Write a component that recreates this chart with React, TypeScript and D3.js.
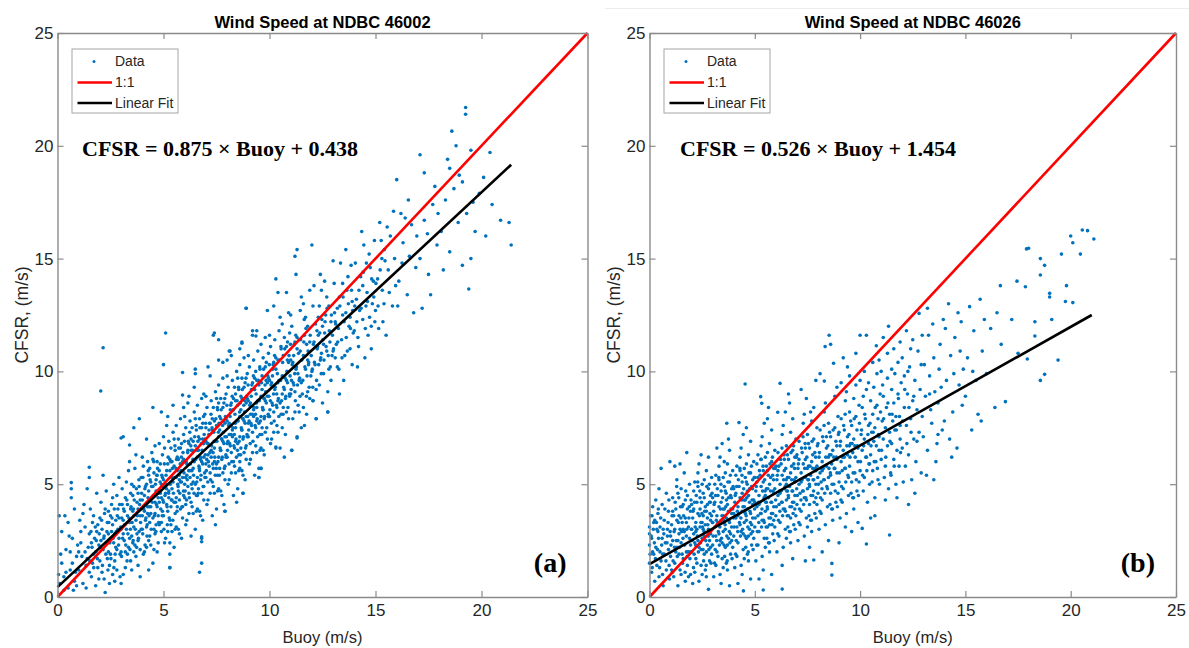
import React, { useEffect, useRef } from "react";
import * as d3 from "d3";

// axis ticks shared by both panels (m/s)
const tickValues = [0, 5, 10, 15, 20, 25];

const titles = ["Wind Speed at NDBC 46002", "Wind Speed at NDBC 46026"];
const panelTags = ["(a)", "(b)"];
const legendLabels = ["Data", "1:1", "Linear Fit"];

// linear fit coefficients and last buoy value of each fit line
const fitSlopes = [0.875, 0.526];
const fitIntercepts = [0.438, 1.454];
const fitEnds = [21.4, 21.0];

// [buoy, cfsr] pairs, NDBC 46002 - whole cloud
const pointsA: [number, number][] = [
  [0.1,0.6],[0.2,1.5],[0.3,0.9],[0.4,2.1],[0.5,0.4],[0.6,1.2],[0.7,2.6],[0.8,0.7],[0.9,1.8],[0.2,2.9],[0.5,3.3],[0.8,3.9],[0.3,0.3],[0.6,2.0],[0.9,0.5],[0.4,1.1],[0.7,1.5],[0.95,2.3],[0.15,1.9],[0.55,2.7],[0.85,1.1],[0.35,3.6],[0.75,0.3],[0.65,4.4],[0.05,1.0],
  [1.0,1.2],[1.1,2.4],[1.2,0.6],[1.3,3.1],[1.4,1.7],[1.5,2.8],[1.6,0.9],[1.7,3.6],[1.8,2.0],[1.9,1.3],[1.05,3.4],[1.15,1.8],[1.25,4.1],[1.35,0.4],[1.45,2.2],[1.55,3.9],[1.65,1.5],[1.75,2.6],[1.85,4.6],[1.95,0.8],[1.1,2.9],[1.3,2.0],[1.5,1.1],[1.7,1.9],[1.9,3.2],[1.2,3.7],[1.4,4.8],[1.6,2.4],[1.8,0.5],[1.5,5.3],[1.0,2.0],[1.85,2.9],[1.35,1.4],[1.65,3.3],[1.95,2.3],
  [2.0,1.6],[2.1,3.0],[2.2,0.8],[2.3,2.4],[2.4,3.8],[2.5,1.9],[2.6,4.4],[2.7,2.8],[2.8,1.2],[2.9,3.5],[2.05,4.2],[2.15,2.1],[2.25,0.2],[2.35,3.3],[2.45,1.4],[2.55,2.9],[2.65,5.0],[2.75,2.2],[2.85,3.9],[2.95,0.9],[2.1,1.1],[2.3,4.7],[2.5,3.6],[2.7,1.6],[2.9,2.6],[2.2,2.7],[2.4,2.0],[2.6,3.2],[2.8,4.5],[2.0,3.5],[2.15,5.4],[2.45,0.6],[2.65,2.4],[2.85,3.0],[2.35,1.7],[2.55,4.1],[2.75,3.4],[2.95,1.9],[2.25,3.9],[2.6,1.0],[2.9,5.3],[2.4,2.8],[2.7,0.7],[2.8,2.1],[2.05,2.5],
  [3.0,2.0],[3.1,3.4],[3.2,1.3],[3.3,4.1],[3.4,2.6],[3.5,5.0],[3.6,3.1],[3.7,1.8],[3.8,4.6],[3.9,3.6],[3.05,4.8],[3.15,2.5],[3.25,3.0],[3.35,5.6],[3.45,1.6],[3.55,3.8],[3.65,2.3],[3.75,4.2],[3.85,2.9],[3.95,5.3],[3.1,1.0],[3.3,3.6],[3.5,2.7],[3.7,3.4],[3.9,2.1],[3.2,4.4],[3.4,3.3],[3.6,4.9],[3.8,1.4],[3.0,3.0],[3.2,2.0],[3.4,6.0],[3.6,2.0],[3.8,3.9],[3.0,0.6],[3.15,3.8],[3.35,2.2],[3.55,4.5],[3.75,2.8],[3.95,3.9],[3.25,5.1],[3.45,3.9],[3.65,5.7],[3.85,4.9],[3.1,2.8],[3.5,1.2],[3.7,6.3],[3.9,4.3],[3.3,1.9],[3.6,3.6],[3.8,2.5],[3.05,4.1],[3.45,4.6],[3.9,0.9],[3.55,2.4],
  [4.0,3.0],[4.1,4.5],[4.2,2.2],[4.3,5.4],[4.4,3.7],[4.5,1.5],[4.6,4.2],[4.7,6.0],[4.8,3.2],[4.9,5.0],[4.05,5.8],[4.15,3.4],[4.25,4.0],[4.35,2.7],[4.45,6.4],[4.55,3.0],[4.65,5.2],[4.75,2.4],[4.85,4.6],[4.95,3.8],[4.0,4.3],[4.2,3.1],[4.4,5.1],[4.6,2.8],[4.8,5.6],[4.1,2.0],[4.3,4.7],[4.5,3.5],[4.7,4.0],[4.9,2.9],[4.0,6.2],[4.2,5.0],[4.4,2.3],[4.6,6.7],[4.8,4.2],[4.15,4.9],[4.35,3.3],[4.55,5.5],[4.75,3.6],[4.95,6.3],[4.05,1.9],[4.25,6.0],[4.45,4.4],[4.65,3.2],[4.85,5.9],[4.1,3.8],[4.3,1.2],[4.5,4.9],[4.7,2.0],[4.9,4.4],[4.2,7.0],[4.4,4.0],[4.6,3.7],[4.8,6.8],[4.0,3.6],[4.3,2.5],[4.5,6.1],[4.7,5.4],[4.9,3.3],[4.35,5.7],[4.65,4.7],[4.95,5.3],[4.25,3.7],[4.75,4.4],[4.55,2.1],
  [5.0,3.6],[5.1,5.0],[5.2,2.9],[5.3,6.1],[5.4,4.3],[5.5,2.2],[5.6,5.3],[5.7,7.0],[5.8,3.9],[5.9,6.0],[5.05,6.6],[5.15,4.1],[5.25,4.7],[5.35,3.2],[5.45,7.3],[5.55,3.7],[5.65,6.2],[5.75,2.8],[5.85,5.1],[5.95,4.5],[5.0,5.2],[5.2,3.8],[5.4,6.0],[5.6,3.1],[5.8,6.6],[5.1,2.6],[5.3,5.6],[5.5,4.2],[5.7,4.7],[5.9,3.5],[5.0,7.1],[5.2,5.9],[5.4,2.9],[5.6,7.6],[5.8,5.1],[5.15,5.6],[5.35,4.0],[5.55,6.5],[5.75,4.3],[5.95,7.2],[5.05,2.4],[5.25,6.9],[5.45,5.1],[5.65,4.0],[5.85,6.8],[5.1,4.6],[5.3,1.9],[5.5,5.8],[5.7,3.0],[5.9,5.3],[5.2,8.0],[5.4,4.8],[5.6,4.4],[5.8,7.9],[5.0,4.2],[5.3,3.4],[5.5,7.0],[5.7,6.1],[5.9,4.0],[5.35,6.6],[5.65,5.6],[5.95,6.1],[5.25,4.4],[5.75,5.2],[5.55,3.0],[5.45,8.5],[5.85,2.6],[5.3,1.3],[5.15,7.6],[5.95,8.4],
  [6.0,4.4],[6.1,5.9],[6.2,3.7],[6.3,7.0],[6.4,5.1],[6.5,3.0],[6.6,6.2],[6.7,7.9],[6.8,4.6],[6.9,6.8],[6.05,7.5],[6.15,4.9],[6.25,5.6],[6.35,4.0],[6.45,8.2],[6.55,4.5],[6.65,7.1],[6.75,3.6],[6.85,5.9],[6.95,5.3],[6.0,6.0],[6.2,4.6],[6.4,6.9],[6.6,3.9],[6.8,7.5],[6.1,3.4],[6.3,6.5],[6.5,5.0],[6.7,5.6],[6.9,4.3],[6.0,8.0],[6.2,6.8],[6.4,3.7],[6.6,8.5],[6.8,6.0],[6.15,6.5],[6.35,4.8],[6.55,7.4],[6.75,5.2],[6.95,8.1],[6.05,3.2],[6.25,7.8],[6.45,6.0],[6.65,4.8],[6.85,7.7],[6.1,5.4],[6.3,2.7],[6.5,6.7],[6.7,3.8],[6.9,6.2],[6.2,8.9],[6.4,5.7],[6.6,5.3],[6.8,8.8],[6.0,5.0],[6.3,4.2],[6.5,7.9],[6.7,7.0],[6.9,4.9],[6.35,7.5],[6.65,6.5],[6.95,7.0],[6.25,5.3],[6.75,6.1],[6.55,3.8],[6.45,9.3],[6.85,3.4],[6.8,2.6],[6.8,1.5],[6.7,1.1],[6.15,8.6],[6.9,9.0],[6.5,9.9],[6.05,4.1],[6.6,4.5],
  [7.0,5.3],[7.1,6.8],[7.2,4.6],[7.3,7.9],[7.4,6.0],[7.5,3.9],[7.6,7.1],[7.7,8.8],[7.8,5.5],[7.9,7.7],[7.05,8.4],[7.15,5.8],[7.25,6.5],[7.35,4.9],[7.45,9.1],[7.55,5.4],[7.65,8.0],[7.75,4.5],[7.85,6.8],[7.95,6.2],[7.0,6.9],[7.2,5.5],[7.4,7.8],[7.6,4.8],[7.8,8.4],[7.1,4.3],[7.3,7.4],[7.5,5.9],[7.7,6.5],[7.9,5.2],[7.0,8.9],[7.2,7.7],[7.4,4.6],[7.6,9.4],[7.8,6.9],[7.15,7.4],[7.35,5.7],[7.55,8.3],[7.75,6.1],[7.95,9.0],[7.05,4.1],[7.25,8.7],[7.45,6.9],[7.65,5.7],[7.85,8.6],[7.1,6.3],[7.3,3.6],[7.5,7.6],[7.7,4.7],[7.9,7.1],[7.2,9.8],[7.4,6.6],[7.6,6.2],[7.8,9.7],[7.0,5.9],[7.3,5.1],[7.5,8.8],[7.7,7.9],[7.9,5.8],[7.35,8.4],[7.65,7.4],[7.95,7.9],[7.25,6.2],[7.75,7.0],[7.55,4.7],[7.9,3.8],[7.4,11.7],[7.6,11.4],[7.6,10.5],[7.1,10.2],[7.8,10.4],[7.45,3.2],[7.85,4.1],[7.0,7.5],[7.6,8.6],
  [8.0,6.2],[8.1,7.7],[8.2,5.5],[8.3,8.8],[8.4,6.9],[8.5,4.8],[8.6,8.0],[8.7,9.7],[8.8,6.4],[8.9,8.6],[8.05,9.3],[8.15,6.7],[8.25,7.4],[8.35,5.8],[8.45,10.0],[8.55,6.3],[8.65,8.9],[8.75,5.4],[8.85,7.7],[8.95,7.1],[8.0,7.8],[8.2,6.4],[8.4,8.7],[8.6,5.7],[8.8,9.3],[8.1,5.2],[8.3,8.3],[8.5,6.8],[8.7,7.4],[8.9,6.1],[8.0,9.8],[8.2,8.6],[8.4,5.5],[8.6,10.3],[8.8,7.8],[8.15,8.3],[8.35,6.6],[8.55,9.2],[8.75,7.0],[8.95,9.9],[8.05,5.0],[8.25,9.6],[8.45,7.8],[8.65,6.6],[8.85,9.5],[8.1,7.2],[8.3,4.5],[8.5,8.5],[8.7,5.6],[8.9,8.0],[8.2,10.7],[8.4,7.5],[8.6,7.1],[8.8,10.6],[8.0,6.8],[8.3,6.0],[8.5,9.7],[8.7,8.8],[8.9,6.7],[8.35,9.3],[8.65,8.3],[8.95,8.8],[8.25,7.1],[8.75,7.9],[8.55,5.6],[8.75,4.6],[8.9,12.8],[8.7,11.3],[8.1,10.9],[8.6,11.0],[8.45,4.2],[8.0,10.5],[8.85,5.2],[8.4,9.0],[8.6,6.0],
  [9.0,7.1],[9.1,8.6],[9.2,6.4],[9.3,9.7],[9.4,7.8],[9.5,5.7],[9.6,8.9],[9.7,10.6],[9.8,7.3],[9.9,9.5],[9.05,10.2],[9.15,7.6],[9.25,8.3],[9.35,6.7],[9.45,10.9],[9.55,7.2],[9.65,9.8],[9.75,6.3],[9.85,8.6],[9.95,8.0],[9.0,8.7],[9.2,7.3],[9.4,9.6],[9.6,6.6],[9.8,10.2],[9.1,6.1],[9.3,9.2],[9.5,7.7],[9.7,8.3],[9.9,7.0],[9.0,10.7],[9.2,9.5],[9.4,6.4],[9.6,11.2],[9.8,8.7],[9.15,9.2],[9.35,7.5],[9.55,10.1],[9.75,7.9],[9.95,10.8],[9.05,5.9],[9.25,10.5],[9.45,8.7],[9.65,7.5],[9.85,10.4],[9.1,8.1],[9.3,5.4],[9.5,9.4],[9.7,6.5],[9.9,8.9],[9.2,11.6],[9.4,8.4],[9.6,8.0],[9.8,11.5],[9.0,7.7],[9.5,5.3],[9.6,5.7],[9.9,12.7],[9.4,11.8],[9.35,10.0],[9.65,9.2],[9.95,9.7],[9.25,8.0],[9.75,8.8],[9.55,6.5],
  [10.0,8.0],[10.1,9.5],[10.2,7.3],[10.3,10.6],[10.4,8.7],[10.5,6.6],[10.6,9.8],[10.7,11.5],[10.8,8.2],[10.9,10.4],[10.05,11.1],[10.15,8.5],[10.25,9.2],[10.35,7.6],[10.45,11.8],[10.55,8.1],[10.65,10.7],[10.75,7.2],[10.85,9.5],[10.95,8.9],[10.0,9.6],[10.2,8.2],[10.4,10.5],[10.6,7.5],[10.8,11.1],[10.1,7.0],[10.3,10.1],[10.5,8.6],[10.7,9.2],[10.9,7.9],[10.0,11.6],[10.2,10.4],[10.4,7.3],[10.6,12.1],[10.8,9.6],[10.15,10.1],[10.35,8.4],[10.55,11.0],[10.75,8.8],[10.95,11.7],[10.05,6.8],[10.25,11.4],[10.45,9.6],[10.65,8.4],[10.85,11.3],[10.3,6.6],[10.3,14.1],[10.4,13.5],[10.8,13.5],[10.5,12.4],[10.7,6.2],[10.9,12.6],[10.2,12.9],[10.6,9.0],
  [11.0,9.0],[11.1,10.4],[11.2,8.2],[11.3,11.5],[11.4,9.6],[11.5,7.5],[11.6,10.7],[11.7,12.4],[11.8,9.1],[11.9,11.3],[11.05,12.0],[11.15,9.4],[11.25,10.1],[11.35,8.5],[11.45,12.7],[11.55,9.0],[11.65,11.6],[11.75,8.1],[11.85,10.4],[11.95,9.8],[11.0,10.5],[11.2,9.1],[11.4,11.4],[11.6,8.4],[11.8,12.0],[11.1,7.9],[11.3,11.0],[11.5,9.5],[11.7,10.1],[11.9,8.8],[11.0,12.5],[11.2,11.3],[11.4,8.2],[11.6,13.0],[11.8,10.5],[11.3,7.1],[11.05,6.5],[11.2,15.1],[11.3,15.4],[11.25,14.3],[11.9,13.6],[11.5,13.3],[11.45,10.9],[11.75,11.2],[11.65,7.6],
  [12.0,10.0],[12.1,11.3],[12.2,9.2],[12.3,12.4],[12.4,10.5],[12.5,8.6],[12.6,11.7],[12.7,13.3],[12.8,10.1],[12.9,12.2],[12.05,12.9],[12.15,10.3],[12.25,11.0],[12.35,9.4],[12.45,13.6],[12.55,9.9],[12.65,12.5],[12.75,9.1],[12.85,11.3],[12.95,10.7],[12.0,15.6],[12.2,7.9],[12.75,8.2],[12.05,8.7],[12.4,14.3],[12.6,14.0],[12.3,11.6],[12.5,12.0],[12.8,12.9],[12.9,9.6],[12.1,13.8],[12.45,10.8],[12.7,10.9],[12.35,12.9],[12.55,11.2],
  [13.0,10.9],[13.1,12.2],[13.2,10.2],[13.3,13.3],[13.4,11.4],[13.5,9.6],[13.6,12.6],[13.7,14.2],[13.8,11.0],[13.9,13.1],[13.05,13.9],[13.15,11.2],[13.25,11.9],[13.35,14.8],[13.45,12.5],[13.55,10.7],[13.65,13.6],[13.75,12.0],[13.85,14.7],[13.95,11.7],[13.3,9.0],[13.0,14.9],[13.6,15.4],[13.2,12.8],[13.8,12.4],[13.45,13.9],[13.9,10.3],[13.1,10.6],
  [14.0,11.8],[14.1,13.2],[14.2,11.1],[14.3,14.2],[14.4,12.3],[14.5,10.6],[14.6,13.5],[14.7,15.2],[14.8,12.0],[14.9,14.0],[14.05,14.8],[14.25,12.7],[14.45,15.6],[14.65,11.6],[14.85,13.0],[14.35,16.2],[14.75,14.6],[14.15,10.2],[14.55,12.9],[14.95,15.8],[14.4,13.8],[14.8,11.0],
  [15.0,12.7],[15.1,14.1],[15.3,15.0],[15.4,13.0],[15.5,11.6],[15.6,14.5],[15.7,16.0],[15.8,12.9],[15.9,15.0],[15.2,16.6],[15.45,14.9],[15.65,13.5],[15.85,17.1],[15.15,11.9],[15.55,16.4],[15.95,13.8],[15.35,12.2],[16.0,18.5],
  [16.1,14.0],[16.3,15.7],[16.5,13.4],[16.7,16.5],[16.9,14.6],[16.2,17.0],[16.6,15.1],[16.8,12.6],[16.4,16.8],[16.05,12.9],[16.95,16.0],[16.55,17.6],[16.25,14.8],
  [17.1,15.0],[17.3,16.7],[17.5,14.3],[17.7,17.4],[17.9,15.6],[17.1,19.6],[17.3,18.8],[17.6,13.4],[17.8,18.2],[17.2,12.8],[17.45,16.1],[17.95,17.0],
  [18.1,16.2],[18.3,17.6],[18.5,15.3],[18.7,18.1],[18.9,16.6],[18.4,19.4],[18.6,20.65],[18.8,20.0],[18.2,14.5],[18.95,18.7],[18.5,19.0],
  [19.25,21.7],[19.25,21.4],[19.5,19.8],[19.4,13.65],[19.5,15.0],[19.1,14.7],[19.9,17.9],[19.3,17.0],[19.7,16.2],[19.1,18.4],[19.6,17.5],
  [20.1,18.6],[20.4,19.7],[20.9,16.7],[21.3,16.6],[21.4,15.6],[20.5,17.4],[20.2,16.0],
  [2.15,11.05],[2.04,9.13],[5.1,11.7],[5.0,10.3],[5.9,9.95],[5.9,8.95],[4.5,8.4],[4.9,8.2],[3.86,7.9],[3.6,7.5],[3.0,7.05],[3.4,6.74],[1.5,5.75],[0.65,5.07],[0.65,4.8],[0.08,3.6],[6.5,10.1],[7.35,11.6],[8.14,10.9],[8.7,11.25],[9.36,11.57],[8.9,12.8],[9.2,11.8],[11.3,7.05],[11.05,6.5],[10.3,6.65],[9.6,5.7],[9.5,5.3],[8.75,4.6],[6.8,2.67],[6.8,2.45],[7.9,3.8],[12.2,7.9],[12.75,8.2],[12.05,8.7],[5.3,2.4],[5.3,1.3],[3.1,7.1],
];

// [buoy, cfsr] pairs from the dense core of panel (a)
const coreA: [number, number][] = [
  [1.52,1.6],[1.58,2.9],[1.63,2.2],[1.71,1.3],[1.78,3.1],[1.83,2.5],[1.88,1.7],[1.97,2.8],[2.03,2.2],[2.08,3.4],[2.12,1.4],[2.18,2.6],[2.22,3.7],[2.28,1.9],[2.33,2.9],[2.38,1.2],[2.42,3.3],[2.47,2.4],
  [2.52,1.7],[2.57,3.5],[2.62,2.6],[2.68,3.9],[2.72,1.9],[2.77,2.9],[2.82,3.6],[2.88,2.3],[2.93,4.1],[2.98,3.1],[3.02,1.8],[3.07,2.6],[3.12,3.9],[3.17,3.2],[3.22,2.3],[3.27,4.3],[3.32,2.8],[3.37,3.5],[3.42,2.1],[3.47,4.0],[3.03,3.5],[3.28,1.6],[2.66,1.3],[3.44,3.0],
  [3.52,3.3],[3.57,2.5],[3.62,4.3],[3.67,3.0],[3.72,4.8],[3.77,3.6],[3.82,2.6],[3.87,4.1],[3.92,3.3],[3.97,4.6],[4.02,2.8],[4.07,3.9],[4.12,4.8],[4.17,3.5],[4.22,2.7],[4.27,4.4],[4.32,3.6],[4.37,5.2],[4.42,3.0],[4.47,4.2],[3.58,3.9],[3.84,5.2],[4.03,5.3],[4.23,3.2],[4.44,4.9],[3.73,2.2],[4.13,2.3],[4.33,4.0],[3.95,3.0],[4.28,5.6],
  [4.52,4.5],[4.57,3.6],[4.62,5.0],[4.67,4.1],[4.72,5.7],[4.77,3.3],[4.82,4.7],[4.87,3.9],[4.92,5.4],[4.97,4.3],[5.02,3.0],[5.07,4.5],[5.12,5.4],[5.17,4.0],[5.22,6.2],[5.27,3.5],[5.32,5.0],[5.37,4.3],[5.42,5.7],[5.47,4.6],[4.54,6.0],[4.74,4.6],[4.94,3.6],[5.14,4.8],[5.34,6.0],[4.64,2.9],[4.84,5.1],[5.04,5.9],[5.24,4.6],[5.44,3.4],[4.98,4.9],[5.18,3.2],[4.68,5.4],[5.38,5.3],
  [5.52,5.3],[5.57,4.2],[5.62,6.1],[5.67,5.0],[5.72,6.6],[5.77,4.6],[5.82,5.6],[5.87,4.0],[5.92,6.4],[5.97,5.5],[6.02,4.7],[6.07,6.0],[6.12,5.2],[6.17,6.9],[6.22,4.4],[6.27,5.9],[6.32,5.0],[6.37,6.5],[6.42,5.4],[6.47,7.1],[5.54,6.7],[5.74,5.4],[5.94,4.7],[6.14,6.4],[6.34,5.6],[5.64,3.8],[5.84,6.2],[6.04,5.3],[6.24,7.3],[6.44,4.6],[5.99,6.9],[6.19,5.6],[5.69,4.9],[6.39,6.1],[5.79,5.9],[6.09,4.3],[6.29,6.7],[5.59,5.7],
  [6.52,6.1],[6.57,5.1],[6.62,6.9],[6.67,5.8],[6.72,7.5],[6.77,5.4],[6.82,6.5],[6.87,4.9],[6.92,7.2],[6.97,6.3],[7.02,5.6],[7.07,6.8],[7.12,6.0],[7.17,7.7],[7.22,5.2],[7.27,6.7],[7.32,5.9],[7.37,7.3],[7.42,6.2],[7.47,7.9],[6.54,7.6],[6.74,6.2],[6.94,5.5],[7.14,7.2],[7.34,6.4],[6.64,4.6],[6.84,7.0],[7.04,6.1],[7.24,8.1],[7.44,5.4],[6.99,7.7],[7.19,6.4],[6.69,5.7],[7.39,6.9],[6.79,6.8],[7.09,5.1],[7.29,7.5],[6.59,6.5],[6.89,8.0],[7.49,5.7],
  [7.52,6.9],[7.57,6.0],[7.62,7.7],[7.67,6.6],[7.72,8.3],[7.77,6.2],[7.82,7.3],[7.87,5.7],[7.92,8.0],[7.97,7.1],[8.02,6.5],[8.07,7.6],[8.12,6.8],[8.17,8.5],[8.22,6.0],[8.27,7.5],[8.32,6.7],[8.37,8.1],[8.42,7.0],[8.47,8.7],[7.54,8.4],[7.74,7.0],[7.94,6.3],[8.14,8.0],[8.34,7.2],[7.64,5.4],[7.84,7.8],[8.04,6.9],[8.24,8.9],[8.44,6.2],[7.99,8.5],[8.19,7.2],[7.69,6.5],[8.39,7.7],[7.79,7.6],[8.09,5.9],[8.29,8.3],[7.59,7.3],[7.89,8.8],[8.49,6.5],
  [8.52,7.8],[8.57,6.9],[8.62,8.6],[8.67,7.5],[8.72,9.2],[8.77,7.1],[8.82,8.2],[8.87,6.6],[8.92,8.9],[8.97,8.0],[9.02,7.4],[9.07,8.5],[9.12,7.7],[9.17,9.4],[9.22,6.9],[9.27,8.4],[9.32,7.6],[9.37,9.0],[9.42,7.9],[9.47,9.6],[8.54,9.3],[8.74,7.9],[8.94,7.2],[9.14,8.9],[9.34,8.1],[8.64,6.3],[8.84,8.7],[9.04,7.8],[9.24,9.8],[9.44,7.1],[8.99,9.4],[9.19,8.1],[8.69,7.4],[9.39,8.6],[8.79,8.5],[9.09,6.8],[9.29,9.2],[8.59,8.2],[8.89,9.7],
  [9.52,8.7],[9.57,7.8],[9.62,9.5],[9.67,8.4],[9.72,10.1],[9.77,8.0],[9.82,9.1],[9.87,7.5],[9.92,9.8],[9.97,8.9],[10.02,8.3],[10.07,9.4],[10.12,8.6],[10.17,10.3],[10.22,7.8],[10.27,9.3],[10.32,8.5],[10.37,9.9],[10.42,8.8],[10.47,10.5],[9.54,10.2],[9.74,8.8],[9.94,8.1],[10.14,9.8],[10.34,9.0],[9.64,7.2],[9.84,9.6],[10.04,8.7],[10.24,10.7],[10.44,8.0],[9.99,10.3],[10.19,9.0],[9.69,8.3],[10.39,9.5],[9.79,9.4],[10.09,7.7],
  [10.52,9.6],[10.57,8.7],[10.62,10.4],[10.67,9.3],[10.72,11.0],[10.77,8.9],[10.82,10.0],[10.87,8.4],[10.92,10.7],[10.97,9.8],[11.02,9.2],[11.07,10.3],[11.12,9.5],[11.17,11.2],[11.22,8.7],[11.27,10.2],[11.32,9.4],[11.37,10.8],[11.42,9.7],[11.47,11.4],[10.54,11.1],[10.74,9.7],[10.94,9.0],[11.14,10.7],[11.34,9.9],[10.64,8.1],[10.84,10.5],[11.04,9.6],[11.24,11.6],[11.44,8.9],[10.99,11.2],[11.19,9.9],
  [11.52,10.5],[11.57,9.6],[11.62,11.3],[11.67,10.2],[11.72,11.9],[11.77,9.8],[11.82,10.9],[11.87,9.3],[11.92,11.6],[11.97,10.7],[12.02,10.1],[12.07,11.2],[12.12,10.4],[12.17,12.1],[12.22,9.6],[12.27,11.1],[12.32,10.3],[12.37,11.7],[12.42,10.6],[12.47,12.3],[11.64,12.3],[11.84,10.3],[12.04,9.3],[12.24,11.8],[12.44,9.9],[11.74,8.9],
  [12.52,11.4],[12.57,10.5],[12.62,12.2],[12.67,11.1],[12.72,12.8],[12.77,10.7],[12.82,11.8],[12.87,10.2],[12.92,12.5],[12.97,11.6],[13.02,11.0],[13.12,12.1],[13.22,11.3],[13.32,12.9],[13.42,10.6],[13.52,12.2],[13.62,11.5],[13.72,13.0],[13.82,11.9],[13.92,12.7],[13.07,12.6],[13.27,10.1],[13.47,13.3],[13.67,10.9],[13.87,13.6],
  [14.02,12.9],[14.12,12.2],[14.22,13.6],[14.32,12.8],[14.42,14.4],[14.52,11.9],[14.62,13.1],[14.72,12.4],[14.82,14.1],[14.92,13.3],[15.02,13.9],[15.12,12.9],[15.22,14.5],[15.32,13.6],[15.42,15.4],[14.17,11.5],[14.57,14.8],[14.97,12.2],[15.27,15.8],
];

// [buoy, cfsr] pairs, NDBC 46026 - whole cloud
const pointsB: [number, number][] = [
  [0.0,1.5],[0.0,2.3],[0.0,3.1],[0.0,2.8],[0.05,3.6],[0.1,1.1],[0.1,2.6],[0.15,4.0],[0.2,1.9],[0.2,3.3],[0.25,0.7],[0.3,2.2],[0.3,4.3],[0.35,1.4],[0.4,2.9],[0.4,3.7],[0.45,0.9],[0.5,2.0],[0.5,3.1],[0.55,5.7],[0.55,1.6],[0.6,2.6],[0.6,4.1],[0.65,0.5],[0.7,3.4],[0.7,1.9],[0.75,2.4],[0.8,4.6],[0.8,1.2],[0.85,3.0],[0.9,2.1],[0.9,3.8],[0.95,0.8],[0.97,6.0],[0.35,3.0],[0.15,2.0],[0.65,3.0],[0.85,2.7],[0.45,4.8],[0.25,3.4],
  [1.0,1.8],[1.05,3.2],[1.1,2.5],[1.1,4.4],[1.15,0.9],[1.2,3.0],[1.2,1.5],[1.25,3.9],[1.3,2.2],[1.3,5.2],[1.35,0.5],[1.4,2.8],[1.4,3.6],[1.45,1.2],[1.5,4.8],[1.5,2.4],[1.55,3.3],[1.6,1.7],[1.6,4.1],[1.65,2.9],[1.7,0.7],[1.7,3.5],[1.75,2.0],[1.77,6.4],[1.8,4.5],[1.8,1.4],[1.85,3.1],[1.9,2.6],[1.9,5.0],[1.95,1.0],[1.95,3.8],[1.0,2.7],[1.15,3.6],[1.25,2.0],[1.35,4.6],[1.45,3.0],[1.55,1.9],[1.65,5.5],[1.75,2.7],[1.85,0.9],[1.05,1.2],[1.2,5.8],[1.4,1.9],[1.6,3.0],[1.8,3.9],[1.3,3.4],[1.5,1.0],[1.7,4.3],[1.9,2.0],[1.1,3.8],[1.35,2.5],[1.55,4.0],[1.75,3.3],[1.95,2.3],[1.45,5.9],
  [2.0,2.0],[2.05,3.5],[2.1,2.8],[2.1,4.7],[2.15,1.1],[2.2,3.3],[2.2,1.7],[2.25,4.2],[2.3,2.5],[2.3,5.5],[2.35,0.7],[2.4,3.1],[2.4,3.9],[2.45,1.4],[2.5,5.0],[2.5,2.6],[2.55,3.6],[2.6,1.9],[2.6,4.4],[2.65,3.2],[2.7,0.9],[2.7,3.8],[2.75,2.3],[2.8,6.2],[2.8,0.34],[2.8,4.8],[2.85,1.6],[2.9,3.4],[2.9,2.8],[2.95,5.3],[2.0,4.1],[2.15,2.4],[2.25,3.0],[2.35,5.9],[2.45,2.1],[2.55,4.6],[2.65,1.2],[2.75,3.5],[2.85,4.2],[2.95,1.9],[2.05,0.6],[2.2,2.9],[2.4,4.4],[2.6,2.7],[2.8,3.0],[2.3,3.7],[2.5,1.0],[2.7,5.6],[2.9,2.2],[2.1,3.9],[2.35,2.2],[2.55,3.0],[2.75,4.1],[2.95,3.6],[2.45,6.3],[2.25,1.5],[2.65,4.0],[2.85,2.5],[2.0,3.0],[2.5,3.3],[2.7,2.0],[2.9,4.5],[2.3,4.9],[2.6,5.2],[2.15,5.1],
  [3.0,2.3],[3.05,3.8],[3.1,3.1],[3.1,5.0],[3.15,1.4],[3.2,3.6],[3.2,2.0],[3.25,4.5],[3.3,2.8],[3.3,5.8],[3.35,1.0],[3.4,3.4],[3.4,4.2],[3.45,1.7],[3.5,5.3],[3.5,2.9],[3.55,3.9],[3.6,2.2],[3.6,4.7],[3.65,3.5],[3.7,1.2],[3.7,4.1],[3.75,2.6],[3.8,6.5],[3.8,5.1],[3.85,1.9],[3.9,3.7],[3.9,3.1],[3.95,5.6],[3.0,4.4],[3.15,2.7],[3.25,3.3],[3.35,6.2],[3.45,2.4],[3.55,4.9],[3.65,1.5],[3.75,3.8],[3.85,4.5],[3.95,2.2],[3.05,0.9],[3.2,3.2],[3.4,4.7],[3.6,3.0],[3.8,3.3],[3.3,4.0],[3.5,1.3],[3.7,5.9],[3.9,2.5],[3.1,4.2],[3.35,2.5],[3.55,3.3],[3.75,4.4],[3.95,3.9],[3.45,6.8],[3.25,1.8],[3.65,4.3],[3.85,2.8],[3.0,3.3],[3.5,3.6],[3.7,2.3],[3.9,4.8],[3.3,5.2],[3.6,5.5],[3.15,5.4],[3.67,7.7],[3.4,0.6],[3.8,0.5],[3.55,6.0],[3.2,6.6],[3.75,7.0],
  [4.0,2.7],[4.05,4.2],[4.1,3.5],[4.1,5.4],[4.15,1.8],[4.2,4.0],[4.2,2.4],[4.25,4.9],[4.3,3.2],[4.3,6.2],[4.35,1.4],[4.4,3.8],[4.4,4.6],[4.45,2.1],[4.5,5.7],[4.5,3.3],[4.55,4.3],[4.6,2.6],[4.6,5.1],[4.65,3.9],[4.7,1.6],[4.7,4.5],[4.75,3.0],[4.8,6.9],[4.8,5.5],[4.85,2.3],[4.9,4.1],[4.9,3.5],[4.95,6.0],[4.0,4.8],[4.15,3.1],[4.25,3.7],[4.35,6.6],[4.45,2.8],[4.55,5.3],[4.65,1.9],[4.75,4.2],[4.85,4.9],[4.95,2.6],[4.05,1.3],[4.2,3.6],[4.4,5.1],[4.6,3.4],[4.8,3.7],[4.3,4.4],[4.5,1.7],[4.7,6.3],[4.9,2.9],[4.1,4.6],[4.35,2.9],[4.55,3.7],[4.75,4.8],[4.95,4.3],[4.45,7.2],[4.25,7.73],[4.46,0.27],[4.54,9.44],[4.65,4.7],[4.85,3.2],[4.0,3.7],[4.5,4.0],[4.7,2.7],[4.9,5.2],[4.3,5.6],[4.6,5.9],[4.15,5.8],[4.4,1.0],[4.8,0.8],[4.6,7.5],[4.2,0.6],
  [5.0,3.1],[5.05,4.7],[5.1,4.0],[5.1,5.9],[5.15,2.3],[5.2,4.5],[5.2,2.9],[5.25,5.4],[5.3,3.7],[5.3,6.7],[5.35,1.8],[5.4,4.3],[5.4,5.1],[5.45,2.6],[5.5,6.2],[5.5,3.8],[5.55,4.8],[5.6,3.1],[5.6,5.6],[5.65,4.4],[5.7,2.0],[5.7,5.0],[5.75,3.5],[5.8,7.4],[5.8,6.0],[5.85,2.8],[5.9,4.6],[5.9,4.0],[5.95,6.5],[5.0,5.3],[5.15,3.6],[5.25,4.2],[5.35,7.1],[5.45,3.3],[5.55,5.8],[5.65,2.4],[5.75,4.7],[5.85,5.4],[5.95,3.1],[5.05,1.6],[5.2,4.1],[5.4,5.6],[5.6,3.9],[5.8,4.2],[5.3,4.9],[5.5,2.2],[5.7,6.8],[5.9,3.4],[5.1,5.1],[5.35,3.4],[5.55,4.2],[5.75,5.3],[5.95,4.8],[5.45,7.7],[5.28,8.88],[5.33,8.59],[5.4,0.31],[5.65,8.4],[5.85,3.7],[5.0,4.2],[5.5,4.5],[5.7,3.2],[5.9,5.7],[5.3,6.1],[5.6,6.4],[5.15,6.3],[5.4,1.2],[5.8,1.0],[5.6,7.9],[5.2,0.8],
  [6.0,3.6],[6.05,5.2],[6.1,4.5],[6.1,6.4],[6.15,2.7],[6.2,5.0],[6.2,3.3],[6.25,5.9],[6.3,4.2],[6.3,7.2],[6.35,2.2],[6.4,4.8],[6.4,5.6],[6.45,3.0],[6.5,6.7],[6.5,4.3],[6.55,5.3],[6.6,3.6],[6.6,6.1],[6.65,4.9],[6.7,2.4],[6.7,5.5],[6.75,4.0],[6.8,7.9],[6.8,6.5],[6.85,3.2],[6.9,5.1],[6.9,4.5],[6.95,7.0],[6.0,5.8],[6.15,4.1],[6.25,4.7],[6.35,7.6],[6.45,3.8],[6.55,6.3],[6.65,2.9],[6.75,5.2],[6.85,5.9],[6.95,3.6],[6.05,2.0],[6.2,4.6],[6.4,6.1],[6.6,4.4],[6.8,4.7],[6.3,5.4],[6.5,2.6],[6.7,7.3],[6.9,3.9],[6.1,5.6],[6.35,3.9],[6.55,4.7],[6.75,5.8],[6.95,5.3],[6.45,8.2],[6.09,8.19],[6.2,9.47],[6.3,0.35],[6.65,8.6],[6.85,4.2],[6.5,5.0],[6.7,3.5],[6.9,6.2],[6.3,1.4],[6.8,1.7],[6.6,9.0],
  [7.0,4.1],[7.05,5.7],[7.1,5.0],[7.1,6.9],[7.15,3.2],[7.2,5.5],[7.2,3.8],[7.25,6.4],[7.3,4.7],[7.3,7.7],[7.35,2.7],[7.4,5.3],[7.4,6.1],[7.45,3.5],[7.5,7.2],[7.5,4.8],[7.55,5.8],[7.6,4.1],[7.6,6.6],[7.65,5.4],[7.7,2.9],[7.7,6.0],[7.75,4.5],[7.8,8.4],[7.8,7.0],[7.85,3.7],[7.9,5.6],[7.9,5.0],[7.95,7.5],[7.0,6.3],[7.15,4.6],[7.25,5.2],[7.35,8.1],[7.45,4.3],[7.55,6.8],[7.65,3.4],[7.75,5.7],[7.85,6.4],[7.95,4.1],[7.05,2.5],[7.2,5.1],[7.4,6.6],[7.6,4.9],[7.8,5.2],[7.3,5.9],[7.5,3.1],[7.7,7.8],[7.9,4.4],[7.1,6.1],[7.35,4.4],[7.55,5.2],[7.75,6.3],[7.95,5.8],[7.45,8.8],[7.8,1.64],[7.6,2.2],[7.2,9.2],[7.9,9.6],[7.4,1.6],[7.65,8.2],
  [8.0,4.6],[8.05,6.2],[8.1,5.5],[8.1,7.4],[8.15,3.7],[8.2,6.0],[8.2,4.3],[8.25,6.9],[8.3,5.2],[8.3,8.2],[8.35,3.2],[8.4,5.8],[8.4,6.6],[8.45,4.0],[8.5,7.7],[8.5,5.3],[8.55,6.3],[8.6,4.6],[8.6,7.1],[8.65,5.9],[8.7,3.4],[8.7,6.5],[8.75,5.0],[8.8,8.9],[8.8,7.5],[8.85,4.2],[8.9,6.1],[8.9,5.5],[8.95,8.0],[8.0,6.8],[8.15,5.1],[8.25,5.7],[8.35,8.6],[8.45,4.8],[8.55,7.3],[8.65,3.9],[8.75,6.2],[8.85,6.9],[8.95,4.6],[8.05,3.0],[8.2,5.6],[8.4,7.1],[8.6,5.4],[8.8,5.7],[8.66,0.97],[8.66,1.49],[8.34,11.1],[8.53,11.6],[8.6,11.2],[8.74,10.36],[8.3,9.57],[8.1,9.9],[8.5,2.5],[8.9,9.3],[8.2,2.0],
  [9.0,5.1],[9.05,6.7],[9.1,6.0],[9.1,7.9],[9.15,4.2],[9.2,6.5],[9.2,4.8],[9.25,7.4],[9.3,5.7],[9.3,8.7],[9.35,3.7],[9.4,6.3],[9.4,7.1],[9.45,4.5],[9.5,8.2],[9.5,5.8],[9.55,6.8],[9.6,5.1],[9.6,7.6],[9.65,6.4],[9.7,3.9],[9.7,7.0],[9.75,5.5],[9.8,9.4],[9.8,8.0],[9.85,4.7],[9.9,6.6],[9.9,6.0],[9.95,8.5],[9.0,7.3],[9.15,5.6],[9.25,6.2],[9.35,9.1],[9.45,5.3],[9.55,7.8],[9.65,4.4],[9.75,6.7],[9.85,7.4],[9.95,5.1],[9.05,3.5],[9.4,10.2],[9.6,2.9],[9.2,10.6],[9.8,10.8],[9.5,9.8],[9.0,2.4],[9.7,8.8],[9.3,3.1],[9.9,3.3],[9.1,9.5],
  [10.0,5.6],[10.05,7.2],[10.1,6.5],[10.1,8.4],[10.15,4.7],[10.2,7.0],[10.2,5.3],[10.25,7.9],[10.3,6.2],[10.3,9.2],[10.35,4.2],[10.4,6.8],[10.4,7.6],[10.45,5.0],[10.5,8.7],[10.5,6.3],[10.55,7.3],[10.6,5.6],[10.6,8.1],[10.65,6.9],[10.7,4.4],[10.7,7.5],[10.75,6.0],[10.8,9.9],[10.8,8.5],[10.85,5.2],[10.9,7.1],[10.9,6.5],[10.95,9.0],[10.0,11.6],[10.3,11.6],[10.77,11.14],[10.3,2.35],[10.1,3.04],[10.6,10.4],[10.2,10.0],[10.9,10.5],[10.5,3.5],[10.0,9.6],[10.4,9.5],[10.7,3.6],[10.85,7.9],[10.15,8.9],[10.45,5.9],[10.65,9.3],
  [11.0,6.1],[11.05,7.8],[11.1,7.0],[11.1,8.9],[11.15,5.3],[11.2,7.5],[11.2,5.8],[11.25,8.4],[11.3,6.7],[11.3,9.7],[11.35,4.8],[11.4,7.3],[11.4,8.1],[11.45,5.5],[11.5,9.2],[11.5,6.8],[11.55,7.8],[11.6,6.1],[11.6,8.6],[11.65,7.4],[11.7,5.0],[11.7,8.0],[11.75,6.5],[11.8,10.4],[11.8,9.0],[11.85,5.8],[11.9,7.6],[11.9,7.0],[11.95,9.5],[11.35,12.0],[11.4,2.75],[11.3,10.8],[11.6,11.0],[11.0,10.0],[11.9,11.3],[11.2,4.3],[11.5,10.1],[11.75,4.4],[11.1,11.5],[11.65,9.9],
  [12.0,6.6],[12.1,8.4],[12.15,5.8],[12.2,7.6],[12.25,9.0],[12.3,6.3],[12.35,10.2],[12.4,7.9],[12.45,5.2],[12.5,8.7],[12.55,7.0],[12.6,9.6],[12.65,6.0],[12.7,8.3],[12.75,10.9],[12.8,7.3],[12.85,9.2],[12.9,5.5],[12.95,8.0],[12.8,12.57],[12.5,11.4],[12.2,11.8],[12.0,10.6],[12.6,4.6],[12.3,4.1],[12.9,10.3],[12.4,11.0],[12.7,6.9],[12.1,9.8],[12.55,8.9],[12.05,5.1],[12.95,11.6],
  [13.0,7.1],[13.1,8.9],[13.2,6.5],[13.3,9.8],[13.4,7.7],[13.5,10.6],[13.6,6.0],[13.7,8.6],[13.8,11.2],[13.9,7.4],[13.05,10.3],[13.15,5.4],[13.25,11.6],[13.35,8.3],[13.45,12.1],[13.55,9.1],[13.65,6.8],[13.75,10.1],[13.85,9.3],[13.95,12.3],[13.5,5.2],[13.2,12.8],[13.7,7.2],[13.3,9.0],
  [14.0,7.8],[14.1,9.6],[14.2,13.0],[14.3,10.7],[14.4,8.2],[14.5,11.5],[14.6,6.6],[14.7,9.4],[14.8,12.2],[14.9,10.1],[14.05,11.9],[14.25,7.0],[14.45,9.9],[14.65,12.6],[14.85,8.5],[14.35,6.2],[14.75,10.9],
  [15.0,8.9],[15.2,12.87],[15.1,10.6],[15.3,7.4],[15.4,11.8],[15.5,9.6],[15.7,13.2],[15.6,8.1],[15.8,10.9],[15.9,12.3],[15.35,10.0],[15.75,7.8],
  [16.0,9.9],[16.2,11.9],[16.4,8.4],[16.66,13.8],[16.9,8.66],[16.7,11.2],[16.5,12.6],
  [17.45,14.0],[17.85,13.75],[17.9,15.43],[17.5,10.8],[17.94,10.55],[17.2,12.3],
  [18.0,15.46],[18.56,15.0],[18.76,14.7],[18.56,14.27],[18.3,12.2],[18.3,11.57],[18.56,9.6],[18.76,9.87],
  [19.56,15.2],[19.0,13.46],[19.0,13.3],[19.8,13.8],[19.75,13.1],[19.1,12.3],[19.4,10.5],[20.0,16.0],
  [20.55,16.27],[20.8,16.24],[21.1,15.87],[20.1,15.7],[20.46,15.2],[20.1,13.05],
];

// [buoy, cfsr] pairs from the dense core of panel (b)
const coreB: [number, number][] = [
  [0.03,1.9],[0.08,2.7],[0.13,1.3],[0.18,3.0],[0.23,2.4],[0.28,1.7],[0.33,3.3],[0.38,2.1],[0.43,2.6],[0.48,1.3],[0.53,3.5],[0.58,2.3],[0.63,1.9],[0.68,2.8],[0.73,3.9],[0.78,1.6],[0.83,2.4],[0.88,3.3],[0.93,1.4],[0.98,2.9],[0.12,3.6],[0.42,3.9],[0.62,1.0],[0.92,4.3],
  [1.02,2.3],[1.07,3.6],[1.12,1.6],[1.17,2.9],[1.22,4.2],[1.27,2.5],[1.32,1.8],[1.37,3.3],[1.42,2.2],[1.47,4.0],[1.52,2.9],[1.57,1.5],[1.62,3.6],[1.67,2.3],[1.72,4.7],[1.77,3.0],[1.82,2.0],[1.87,3.5],[1.92,1.7],[1.97,4.3],[1.09,1.1],[1.29,4.9],[1.49,3.5],[1.69,1.1],[1.89,4.0],[1.19,2.2],[1.59,2.6],[1.79,1.8],[1.39,4.4],[1.99,3.0],
  [2.02,2.5],[2.07,3.8],[2.12,1.9],[2.17,3.1],[2.22,4.5],[2.27,2.7],[2.32,2.0],[2.37,3.6],[2.42,2.4],[2.47,4.2],[2.52,3.1],[2.57,1.6],[2.62,3.8],[2.67,2.5],[2.72,4.9],[2.77,3.2],[2.82,2.1],[2.87,3.7],[2.92,1.5],[2.97,4.6],[2.09,1.3],[2.29,5.1],[2.49,3.7],[2.69,1.4],[2.89,4.2],[2.19,2.3],[2.59,2.9],[2.79,2.7],[2.39,4.7],[2.99,3.3],[2.14,4.2],[2.54,2.1],[2.84,5.0],[2.44,3.3],
  [3.02,2.7],[3.07,4.1],[3.12,2.1],[3.17,3.4],[3.22,4.8],[3.27,2.9],[3.32,2.3],[3.37,3.9],[3.42,2.6],[3.47,4.4],[3.52,3.4],[3.57,1.8],[3.62,4.0],[3.67,2.7],[3.72,5.1],[3.77,3.4],[3.82,2.4],[3.87,3.9],[3.92,1.7],[3.97,4.9],[3.09,1.5],[3.29,5.3],[3.49,3.9],[3.69,1.6],[3.89,4.4],[3.19,2.5],[3.59,3.2],[3.79,2.9],[3.39,5.0],[3.99,3.5],[3.14,4.5],[3.54,2.3],[3.84,5.4],[3.44,3.6],[3.64,4.6],[3.34,3.1],
  [4.02,3.1],[4.07,4.5],[4.12,2.5],[4.17,3.8],[4.22,5.2],[4.27,3.3],[4.32,2.7],[4.37,4.3],[4.42,3.0],[4.47,4.8],[4.52,3.8],[4.57,2.2],[4.62,4.4],[4.67,3.1],[4.72,5.5],[4.77,3.8],[4.82,2.8],[4.87,4.3],[4.92,2.1],[4.97,5.3],[4.09,1.9],[4.29,5.7],[4.49,4.3],[4.69,2.0],[4.89,4.8],[4.19,2.9],[4.59,3.6],[4.79,3.3],[4.39,5.4],[4.99,3.9],[4.14,4.9],[4.54,2.7],[4.84,5.8],[4.44,4.0],[4.64,5.0],[4.34,3.5],
  [5.02,3.5],[5.07,4.9],[5.12,2.9],[5.17,4.2],[5.22,5.6],[5.27,3.7],[5.32,3.1],[5.37,4.7],[5.42,3.4],[5.47,5.2],[5.52,4.2],[5.57,2.6],[5.62,4.8],[5.67,3.5],[5.72,5.9],[5.77,4.2],[5.82,3.2],[5.87,4.7],[5.92,2.5],[5.97,5.7],[5.09,2.3],[5.29,6.1],[5.49,4.7],[5.69,2.4],[5.89,5.2],[5.19,3.3],[5.59,4.0],[5.79,3.7],[5.39,5.8],[5.99,4.3],[5.14,5.3],[5.54,3.1],[5.84,6.2],[5.44,4.4],[5.64,5.4],[5.34,3.9],
  [6.02,4.0],[6.07,5.4],[6.12,3.4],[6.17,4.7],[6.22,6.1],[6.27,4.2],[6.32,3.6],[6.37,5.2],[6.42,3.9],[6.47,5.7],[6.52,4.7],[6.57,3.1],[6.62,5.3],[6.67,4.0],[6.72,6.4],[6.77,4.7],[6.82,3.7],[6.87,5.2],[6.92,3.0],[6.97,6.2],[6.09,2.8],[6.29,6.6],[6.49,5.2],[6.69,2.9],[6.89,5.7],[6.19,3.8],[6.59,4.5],[6.79,4.2],[6.39,6.3],[6.99,4.8],[6.14,5.8],[6.54,3.6],[6.84,6.7],[6.44,4.9],
  [7.02,4.5],[7.07,5.9],[7.12,3.9],[7.17,5.2],[7.22,6.6],[7.27,4.7],[7.32,4.1],[7.37,5.7],[7.42,4.4],[7.47,6.2],[7.52,5.2],[7.57,3.6],[7.62,5.8],[7.67,4.5],[7.72,6.9],[7.77,5.2],[7.82,4.2],[7.87,5.7],[7.92,3.5],[7.97,6.7],[7.09,3.3],[7.29,7.1],[7.49,5.7],[7.69,3.4],[7.89,6.2],[7.19,4.3],[7.59,5.0],[7.79,4.7],[7.39,6.8],[7.99,5.3],
  [8.02,5.0],[8.07,6.4],[8.12,4.4],[8.17,5.7],[8.22,7.1],[8.27,5.2],[8.32,4.6],[8.37,6.2],[8.42,4.9],[8.47,6.7],[8.52,5.7],[8.57,4.1],[8.62,6.3],[8.67,5.0],[8.72,7.4],[8.77,5.7],[8.82,4.7],[8.87,6.2],[8.92,4.0],[8.97,7.2],[8.09,3.8],[8.29,7.6],[8.49,6.2],[8.69,3.9],[8.89,6.7],[8.19,4.8],[8.59,5.5],
  [9.02,5.5],[9.07,6.9],[9.12,4.9],[9.17,6.2],[9.22,7.6],[9.27,5.7],[9.32,5.1],[9.37,6.7],[9.42,5.4],[9.47,7.2],[9.52,6.2],[9.57,4.6],[9.62,6.8],[9.67,5.5],[9.72,7.9],[9.77,6.2],[9.82,5.2],[9.87,6.7],[9.92,4.5],[9.97,7.7],[9.09,4.3],[9.29,8.1],[9.49,6.7],[9.69,4.4],
  [10.02,6.0],[10.07,7.4],[10.12,5.4],[10.17,6.7],[10.22,8.1],[10.27,6.2],[10.32,5.6],[10.37,7.2],[10.42,5.9],[10.47,7.7],[10.52,6.7],[10.57,5.1],[10.62,7.3],[10.67,6.0],[10.72,8.4],[10.77,6.7],[10.82,5.7],[10.87,7.2],[10.92,5.0],[10.97,8.2],
  [11.02,6.5],[11.12,7.9],[11.22,6.2],[11.32,8.6],[11.42,6.9],[11.52,8.1],[11.62,5.8],[11.72,7.4],[11.82,8.8],[11.92,6.4],[12.02,7.8],[12.12,9.2],[12.22,6.8],[12.32,8.4],[12.42,7.3],[11.07,9.4],[11.47,5.4],[11.87,8.0],[12.27,10.0],
];

const blue = "#0072BD";
const axisGray = "#8a8a8a";
const textGray = "#262626";
const sans = "'Liberation Sans', Arial, Helvetica, sans-serif";
const serif = "'Liberation Serif', 'Times New Roman', serif";

const drawPanel = (svg, opts) => {
  const { left, right, top, bottom, points, slope, intercept, xEnd, title, tag, eqX } = opts;
  const x = d3.scaleLinear().domain([0, 25]).range([left, right]);
  const y = d3.scaleLinear().domain([0, 25]).range([bottom, top]);
  const g = svg.append("g");

  // scatter
  g.append("g")
    .selectAll("circle")
    .data(points)
    .join("circle")
    .attr("cx", (d) => x(d[0]))
    .attr("cy", (d) => y(d[1]))
    .attr("r", 1.8)
    .attr("fill", blue);

  // 1:1 line
  g.append("line")
    .attr("x1", x(0)).attr("y1", y(0))
    .attr("x2", x(25)).attr("y2", y(25))
    .attr("stroke", "#ff0000")
    .attr("stroke-width", 2.6);

  // linear fit
  g.append("line")
    .attr("x1", x(0)).attr("y1", y(intercept))
    .attr("x2", x(xEnd)).attr("y2", y(slope * xEnd + intercept))
    .attr("stroke", "#000")
    .attr("stroke-width", 2.6);

  // axes, ticks pointing inward on all four sides
  const styleAxis = (sel) => {
    sel.select(".domain").attr("stroke", axisGray).attr("stroke-width", 1.4);
    sel.selectAll(".tick line").attr("stroke", axisGray).attr("stroke-width", 1.2);
    sel.selectAll(".tick text").attr("fill", textGray).attr("font-size", 17).attr("font-family", sans);
  };
  g.append("g")
    .attr("transform", `translate(0,${bottom})`)
    .call(d3.axisBottom(x).tickValues(tickValues).tickSizeInner(-6).tickSizeOuter(0).tickPadding(7))
    .call(styleAxis);
  g.append("g")
    .attr("transform", `translate(0,${top})`)
    .call(d3.axisTop(x).tickValues(tickValues).tickSizeInner(-6).tickSizeOuter(0).tickFormat(() => ""))
    .call(styleAxis);
  g.append("g")
    .attr("transform", `translate(${left},0)`)
    .call(d3.axisLeft(y).tickValues(tickValues).tickSizeInner(-6).tickSizeOuter(0).tickPadding(4))
    .call(styleAxis);
  g.append("g")
    .attr("transform", `translate(${right},0)`)
    .call(d3.axisRight(y).tickValues(tickValues).tickSizeInner(-6).tickSizeOuter(0).tickFormat(() => ""))
    .call(styleAxis);

  // titles and axis labels
  g.append("text")
    .attr("x", (left + right) / 2).attr("y", 28)
    .attr("text-anchor", "middle")
    .attr("font-family", sans).attr("font-weight", "bold").attr("font-size", 16.5)
    .attr("fill", "#000")
    .text(title);
  g.append("text")
    .attr("x", (left + right) / 2).attr("y", 643)
    .attr("text-anchor", "middle")
    .attr("font-family", sans).attr("font-size", 16.5).attr("fill", textGray)
    .text("Buoy (m/s)");
  g.append("text")
    .attr("transform", `translate(${left - 30},${(top + bottom) / 2}) rotate(-90)`)
    .attr("text-anchor", "middle")
    .attr("font-family", sans).attr("font-size", 17.5).attr("fill", textGray)
    .text("CFSR, (m/s)");

  // legend
  const lg = g.append("g").attr("transform", `translate(${left + 14.5},49)`);
  lg.append("rect")
    .attr("width", 106).attr("height", 64)
    .attr("fill", "#fff").attr("stroke", "#a6a6a6").attr("stroke-width", 1);
  const rows = [12.5, 33.5, 54];
  legendLabels.forEach((label, i) => {
    if (i === 0) {
      lg.append("circle").attr("cx", 22).attr("cy", rows[i]).attr("r", 1.5).attr("fill", blue);
    } else {
      lg.append("line")
        .attr("x1", 5.5).attr("x2", 40).attr("y1", rows[i]).attr("y2", rows[i])
        .attr("stroke", i === 1 ? "#ff0000" : "#000").attr("stroke-width", 2.6);
    }
    lg.append("text")
      .attr("x", 43).attr("y", rows[i]).attr("dy", "0.35em")
      .attr("font-family", sans).attr("font-size", 14).attr("fill", textGray)
      .text(label);
  });

  // fit equation and panel tag
  g.append("text")
    .attr("x", eqX).attr("y", 156)
    .attr("font-family", serif).attr("font-weight", "bold").attr("font-size", 22)
    .attr("fill", "#000")
    .text(`CFSR = ${slope.toFixed(3)} \u00d7 Buoy + ${intercept.toFixed(3)}`);
  g.append("text")
    .attr("x", right - 21).attr("y", 572)
    .attr("text-anchor", "end")
    .attr("font-family", serif).attr("font-weight", "bold").attr("font-size", 28)
    .attr("fill", "#000")
    .text(tag);
};

const App = () => {
  const svgRef = useRef(null);

  useEffect(() => {
    const svg = d3.select(svgRef.current);
    svg.selectAll("*").remove();
    svg.append("rect").attr("width", 1189).attr("height", 648).attr("fill", "#fff");
    // faint border line of the second figure
    svg.append("line")
      .attr("x1", 605).attr("x2", 1189).attr("y1", 8.5).attr("y2", 8.5)
      .attr("stroke", "#ececec").attr("stroke-width", 1);

    drawPanel(svg, {
      left: 57.5, right: 587.5, top: 33, bottom: 597,
      points: pointsA.concat(coreA), slope: fitSlopes[0], intercept: fitIntercepts[0], xEnd: fitEnds[0],
      title: titles[0], tag: panelTags[0], eqX: 82,
    });
    drawPanel(svg, {
      left: 649.5, right: 1176, top: 33, bottom: 597,
      points: pointsB.concat(coreB), slope: fitSlopes[1], intercept: fitIntercepts[1], xEnd: fitEnds[1],
      title: titles[1], tag: panelTags[1], eqX: 680,
    });
  }, []);

  return (
    <svg
      ref={svgRef}
      width={1189}
      height={648}
      style={{ position: "absolute", left: 0, top: 0, display: "block" }}
    />
  );
};

export default App;
